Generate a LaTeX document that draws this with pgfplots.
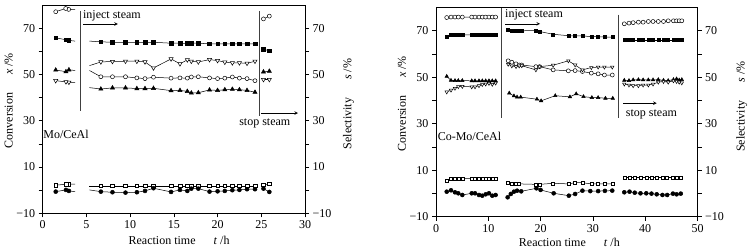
\documentclass[border=0pt]{standalone}
\usepackage{fontspec}
\setmainfont{Liberation Serif}
\usepackage{pgfplots}
\pgfplotsset{compat=1.18}
\pgfplotsset{
  every axis/.append style={font=\fontsize{12}{14}\selectfont},
  panel/.style={scale only axis, clip=false,
    ymin=-10, ymax=80, ytick={-10,10,30,50,70}, yticklabels={−10,10,30,50,70},
    minor ytick={0,20,40,60},
    tick align=outside, major tick length=4pt, minor tick length=4pt,
    tick style={black, line width=0.5pt}, axis line style={line width=0.5pt},
    xtick pos=bottom},
  ln/.style={black, line width=0.5pt},
  sq/.style={ln, mark=square*, mark options={solid, fill=black, draw=black}},
  osq/.style={ln, mark=square*, mark options={solid, fill=white, draw=black}},
  fc/.style={ln, mark=*, mark options={solid, fill=black, draw=black}},
  oc/.style={ln, mark=*, mark options={solid, fill=white, draw=black}},
  tri/.style={ln, mark=triangle*, mark options={solid, fill=black, draw=black}},
  dtri/.style={ln, mark=triangle*, mark options={solid, fill=white, draw=black, rotate=180}},
  skip1/.style={mark repeat=1, mark phase=2},
}
\begin{document}
\begin{tikzpicture}[x=1pt,y=1pt]
\path[use as bounding box] (0,0) rectangle (750,251);
% ---------------- left panel ----------------
\begin{axis}[panel, at={(42.7pt,37.7pt)}, anchor=south west, width=262.3pt, height=208.3pt,
  xmin=0, xmax=30, xtick={0,5,...,30}, xticklabels={0,5,10,15,20,25,30}, ytick pos=left,
  ylabel={Conversion\hspace{1.5em}\textit{x} /\%},
  ylabel style={at={(axis description cs:-0.13,0.54)}, anchor=center},
  xlabel={Reaction time\hspace{1.5em}\textit{t} /h},
  xlabel style={at={(axis description cs:0.52,-0.128)}, anchor=center},
  every mark/.append style={mark size=2pt}]
% segment 1 (extension point first, unmarked)
\addplot[oc, skip1] coordinates {(3.7,78.0)(2.97,78.1)(2.63,78.5)(1.49,77.1)};
\addplot[sq, skip1, mark size=1.8pt] coordinates {(3.7,64.4)(3.0,64.7)(2.66,65.0)(1.49,65.8)};
\addplot[tri, skip1, mark size=2.4pt] coordinates {(3.7,51.7)(3.0,52.0)(2.66,51.2)(1.49,51.9)};
\addplot[dtri, skip1, mark size=2.4pt] coordinates {(3.7,46.6)(3.0,46.6)(2.66,46.8)(1.49,47.3)};
\addplot[osq, skip1, mark size=1.8pt] coordinates {(3.7,2.57)(3.0,2.57)(2.66,2.57)(1.49,2.13)};
\addplot[fc, skip1] coordinates {(3.7,-0.64)(3.0,-0.34)(2.66,0.1)(1.49,-0.64)};
% segment 2 (lead point unmarked)
\addplot[sq, skip1, mark size=1.8pt] coordinates {(5.35,64.4)(6.65,64.1)(7.98,63.9)(9.47,63.8)(10.77,63.8)(11.7,63.8)(12.67,63.9)(14.68,63.5)(15.7,63.5)(16.54,63.4)(17.0,63.5)(17.8,63.5)(19.08,63.2)(20.0,63.2)(20.83,63.2)(21.69,63.2)(22.5,63.2)(23.37,63.2)(24.28,63.2)};
\addplot[dtri, skip1, mark size=2.4pt] coordinates {(5.35,53.8)(6.65,55.4)(7.98,55.6)(9.47,55.7)(10.77,55.7)(11.7,55.4)(12.67,52.8)(14.68,56.7)(15.7,54.6)(16.54,56.3)(17.0,55.7)(17.8,55.4)(19.08,56.4)(20.0,56.0)(20.83,55.3)(21.69,55.0)(22.5,55.0)(23.37,54.8)(24.28,55.7)};
\addplot[oc, skip1] coordinates {(5.35,51.7)(6.65,49.0)(7.98,49.0)(9.47,49.0)(10.77,48.5)(11.7,48.2)(12.67,48.8)(14.68,48.4)(15.7,48.5)(16.54,48.4)(17.0,48.9)(17.8,49.0)(19.08,48.5)(20.0,48.2)(20.83,48.4)(21.69,48.9)(22.5,48.4)(23.37,48.2)(24.28,47.3)};
\addplot[tri, skip1, mark size=2.4pt] coordinates {(5.35,44.3)(6.65,43.7)(7.98,44.2)(9.47,44.2)(10.77,43.9)(11.7,43.9)(12.67,44.0)(14.68,43.0)(15.7,43.1)(16.54,42.7)(17.0,42.0)(17.8,42.1)(19.08,43.3)(20.0,43.1)(20.83,43.4)(21.69,43.6)(22.5,43.4)(23.37,43.1)(24.28,42.3)};
\addplot[osq, skip1, mark size=1.8pt] coordinates {(5.35,1.83)(6.65,1.83)(7.98,1.83)(9.47,1.83)(10.77,1.83)(11.7,1.83)(12.67,1.83)(14.68,1.83)(15.7,1.83)(16.54,1.83)(17.0,1.83)(17.8,1.83)(19.08,1.83)(20.0,1.83)(20.83,1.83)(21.69,1.83)(22.5,1.83)(23.37,1.83)(24.28,1.83)};
\addplot[fc, skip1] coordinates {(5.35,0.1)(6.65,-0.64)(7.98,-0.9)(9.47,-1.07)(10.77,-0.9)(11.7,-0.34)(12.67,0.83)(14.68,-0.77)(15.7,0.1)(16.54,-0.34)(17.0,0.66)(17.8,0.66)(19.08,-0.64)(20.0,-0.5)(20.83,-0.34)(21.69,-0.03)(22.5,0.1)(23.37,0.4)(24.28,0.4)};
% segment 3
\addplot[oc] coordinates {(25.25,74.0)(25.92,75.2)};
\addplot[sq, mark size=1.8pt] coordinates {(25.25,60.8)(25.92,60.3)};
\addplot[tri, mark size=2.4pt] coordinates {(25.25,51.1)(25.92,51.4)};
\addplot[dtri, mark size=2.4pt] coordinates {(25.25,47.8)(25.92,47.8)};
\addplot[osq, mark size=1.8pt] coordinates {(25.25,2.26)(25.92,2.7)};
\addplot[fc] coordinates {(25.25,0.66)(25.92,-0.77)};
% annotations
\draw[black!75, line width=0.5pt] (axis cs:4.3,77.5) -- (axis cs:4.3,34);
\draw[black!75, line width=0.5pt] (axis cs:24.8,77.5) -- (axis cs:24.8,32);
\node[anchor=west, inner sep=0pt] at (axis cs:4.6,75.4) {inject steam};
\draw[-stealth, line width=0.6pt] (axis cs:4.64,71.8) -- (axis cs:8.6,71.8);
\node[inner sep=0pt] at (axis cs:25.4,28.7) {stop steam};
\draw[-stealth, line width=0.6pt] (axis cs:25.0,33.3) -- (axis cs:29.2,33.3);
\node[anchor=west, inner sep=0pt] at (axis cs:0.05,23.9) {Mo/CeAl};
\end{axis}
\begin{axis}[panel, at={(42.7pt,37.7pt)}, anchor=south west, width=262.3pt, height=208.3pt,
  xmin=0, xmax=30, axis x line=none, axis y line*=right, ytick pos=right,
  ylabel={Selectivity\hspace{1.5em}\textit{s} /\%},
  ylabel style={at={(axis description cs:1.166,0.525)}, anchor=center}]
\end{axis}
% ---------------- right panel ----------------
\begin{axis}[panel, at={(436pt,34.3pt)}, anchor=south west, width=261.5pt, height=209.4pt,
  xmin=0, xmax=50, xtick={0,10,...,50}, xticklabels={0,10,20,30,40,50}, ytick pos=left,
  ylabel={Conversion\hspace{1.5em}\textit{x} /\%},
  ylabel style={at={(axis description cs:-0.13,0.54)}, anchor=center},
  xlabel={Reaction time\hspace{1.5em}\textit{t} /h},
  xlabel style={at={(axis description cs:0.51,-0.122)}, anchor=center},
  every mark/.append style={mark size=1.6pt}]
% segment 1
\addplot[oc] coordinates {(2.05,75.6)(2.87,75.8)(3.63,75.8)(4.26,75.8)(5.03,75.8)(6.83,75.8)(7.46,75.8)(8.22,75.8)(8.85,75.8)(9.5,75.8)(10.13,75.8)(10.76,75.8)(11.4,75.8)};
\addplot[sq, mark size=1.5pt] coordinates {(2.05,67.4)(2.87,68.0)(3.63,68.3)(4.26,68.3)(5.03,68.1)(6.83,68.2)(7.46,68.2)(8.22,68.2)(8.85,68.2)(9.5,68.2)(10.13,68.2)(10.76,68.2)(11.4,68.2)};
\addplot[tri, mark size=2pt] coordinates {(2.05,50.3)(2.87,48.6)(3.63,48.5)(4.26,48.5)(5.03,48.5)(6.83,48.4)(7.46,48.4)(8.22,48.4)(8.85,48.4)(9.5,48.4)(10.13,48.4)(10.76,48.4)(11.4,48.4)};
\addplot[dtri, mark size=2pt] coordinates {(2.05,43.6)(2.87,44.4)(3.63,45.2)(4.26,45.9)(5.03,46.0)(6.83,45.8)(7.46,45.8)(8.22,46.3)(8.85,46.8)(9.5,47.0)(10.13,47.3)(10.76,46.9)(11.4,47.4)};
\addplot[osq, mark size=1.5pt] coordinates {(2.05,5.5)(2.87,6.2)(3.63,6.5)(4.26,6.5)(5.03,6.5)(6.83,6.5)(7.46,6.5)(8.22,6.5)(8.85,6.5)(9.5,6.5)(10.13,6.5)(10.76,6.5)(11.4,6.5)};
\addplot[fc] coordinates {(2.05,0.75)(2.87,1.35)(3.63,0.49)(4.26,0.06)(5.03,-0.67)(6.83,0.06)(7.46,0.06)(8.22,-0.67)(8.85,-0.97)(9.5,-0.37)(10.13,0.06)(10.76,-0.97)(11.4,-0.67)};
% segment 2
\addplot[sq, mark size=1.5pt] coordinates {(13.8,70.3)(14.5,70.0)(15.3,69.9)(15.9,69.9)(16.4,69.9)(19.1,70.0)(19.8,69.6)(22.4,68.4)(25.3,67.8)(26.6,67.7)(28.0,67.7)(29.7,67.4)(31.0,67.4)(32.2,67.2)(33.7,67.2)};
\addplot[oc] coordinates {(13.8,57.0)(14.5,56.4)(15.3,55.7)(15.9,55.2)(16.4,55.2)(19.1,54.5)(19.8,54.5)(22.4,53.1)(25.3,52.7)(26.6,52.8)(28.0,52.4)(29.7,51.7)(31.0,51.4)(32.2,50.9)(33.7,50.9)};
\addplot[dtri, mark size=2pt] coordinates {(13.8,55.5)(14.5,54.8)(15.3,54.5)(15.9,54.8)(16.4,54.9)(19.1,53.1)(19.8,54.5)(22.4,55.1)(25.3,57.0)(26.6,55.2)(28.0,53.1)(29.7,54.1)(31.0,54.3)(32.2,54.3)(33.7,54.3)};
\addplot[tri, mark size=2pt] coordinates {(14.0,43.1)(14.9,41.9)(15.5,41.4)(16.2,41.4)(19.3,40.5)(20.1,39.8)(22.8,42.0)(25.6,41.5)(26.8,42.8)(28.2,41.6)(29.8,41.2)(31.0,41.2)(32.4,40.9)(33.8,40.9)};
\addplot[osq, mark size=1.5pt] coordinates {(13.8,4.6)(14.5,4.35)(15.3,4.1)(15.9,4.1)(19.1,3.9)(19.8,3.9)(22.4,4.35)(25.3,4.1)(26.6,4.6)(28.0,4.6)(29.7,4.1)(31.0,4.1)(32.2,4.1)(33.7,4.1)};
\addplot[fc] coordinates {(13.7,-1.66)(14.3,-0.24)(14.9,0.75)(15.5,1.18)(16.3,0.9)(19.2,2.2)(20.0,1.5)(22.5,0.06)(25.4,-0.97)(26.6,-0.24)(28.0,1.18)(29.5,1.0)(31.0,1.0)(32.3,1.1)(33.7,1.2)};
% segment 3
\addplot[oc] coordinates {(36.0,72.9)(36.9,73.2)(37.7,73.4)(38.7,73.6)(39.6,73.6)(40.6,73.9)(41.5,73.9)(42.5,73.9)(43.5,73.9)(44.4,74.2)(45.4,74.2)(46.0,74.2)(46.5,74.2)(47.0,74.2)};
\addplot[sq, mark size=1.5pt] coordinates {(36.0,66.0)(36.9,66.0)(37.7,66.0)(38.7,66.0)(39.6,66.0)(40.6,66.0)(41.5,66.0)(42.5,66.0)(43.5,66.0)(44.4,66.0)(45.4,66.0)(46.0,66.0)(46.5,66.0)(47.0,66.0)};
\addplot[tri, mark size=2pt] coordinates {(36.0,48.6)(36.9,48.5)(37.7,48.8)(38.7,48.9)(39.6,48.8)(40.6,48.8)(41.5,48.8)(42.5,48.9)(43.5,48.6)(44.4,48.5)(45.4,48.9)(46.0,49.2)(46.5,48.7)(47.0,48.9)};
\addplot[dtri, mark size=2pt] coordinates {(36.0,47.0)(36.9,46.6)(37.7,46.3)(38.7,46.3)(39.6,46.6)(40.6,46.6)(41.5,47.0)(42.5,47.8)(43.5,48.1)(44.4,47.8)(45.4,48.4)(46.0,48.1)(46.5,47.8)(47.0,47.5)};
\addplot[osq, mark size=1.5pt] coordinates {(36.1,6.9)(37.1,6.9)(38.0,6.9)(39.1,6.9)(40.2,6.9)(41.2,6.9)(42.2,6.9)(43.3,6.9)(44.2,6.9)(45.3,6.9)(46.0,6.9)(46.8,6.9)};
\addplot[fc] coordinates {(36.0,0.49)(37.0,0.75)(38.0,0.32)(39.1,0.06)(40.2,0.06)(41.2,-0.08)(42.2,-0.37)(43.3,-0.67)(44.2,-0.67)(45.3,-0.08)(46.0,-0.37)(46.8,-0.08)};
% annotations
\draw[black!75, line width=0.5pt] (axis cs:12.5,79.5) -- (axis cs:12.5,32.3);
\draw[black!75, line width=0.5pt] (axis cs:34.9,76.8) -- (axis cs:34.9,32.4);
\node[anchor=west, inner sep=0pt] at (axis cs:13.2,76.6) {inject steam};
\draw[-stealth, line width=0.6pt] (axis cs:13.2,72.9) -- (axis cs:19.9,72.9);
\node[inner sep=0pt] at (axis cs:41.2,34.0) {stop steam};
\draw[-stealth, line width=0.6pt] (axis cs:35.8,38.8) -- (axis cs:42.2,38.8);
\node[anchor=west, inner sep=0pt] at (axis cs:0.3,24.7) {Co-Mo/CeAl};
\end{axis}
\begin{axis}[panel, at={(436pt,34.3pt)}, anchor=south west, width=261.5pt, height=209.4pt,
  xmin=0, xmax=50, axis x line=none, axis y line*=right, ytick pos=right,
  ylabel={Selectivity\hspace{1.5em}\textit{s} /\%},
  ylabel style={at={(axis description cs:1.169,0.525)}, anchor=center}]
\end{axis}
\end{tikzpicture}
\end{document}
